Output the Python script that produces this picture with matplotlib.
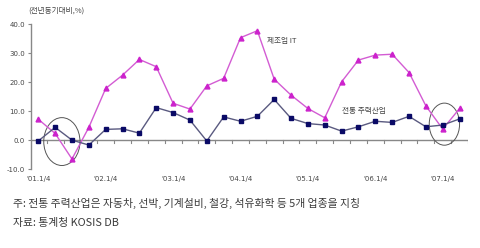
import numpy as np
from matplotlib import pyplot as plt
from matplotlib.patches import Ellipse

plt.rcParams['font.family'] = ['Noto Sans CJK KR', 'DejaVu Sans']

quarters = ["'01.1/4", "'02.1/4", "'03.1/4", "'04.1/4", "'05.1/4", "'06.1/4", "'07.1/4"]
it_mfg = [7.2, 2.3, -6.5, 4.4, 17.8, 22.4, 27.8, 25.3, 12.7, 10.7, 18.7, 21.3, 35.3,
          37.7, 21.0, 15.5, 10.9, 7.7, 20.1, 27.6, 29.3, 29.6, 23.3, 11.8, 3.8, 10.9]
trad_main = [-0.3, 4.4, 0.0, -1.7, 3.7, 3.9, 2.4, 11.2, 9.5, 6.9, -0.3, 8.0, 6.5,
             8.2, 14.0, 7.5, 5.7, 5.2, 3.1, 4.6, 6.5, 6.1, 8.2, 4.6, 5.2, 7.3]

x = np.arange(len(it_mfg))

fig = plt.figure(figsize=(4.8, 2.48), dpi=100)
ax = fig.add_axes([0.065, 0.318, 0.91, 0.585])

ax.plot(x, it_mfg, color='#d35cd3', lw=1.0, marker='^', ms=3.5,
        mfc='#cc22cc', mec='#cc22cc')
ax.plot(x, trad_main, color='#5a5a80', lw=1.0, marker='s', ms=3.2,
        mfc='#0a0a66', mec='#0a0a66')

ax.set_xlim(-0.42, 25.5)
ax.set_ylim(-10, 40)
ax.set_yticks([-10, 0, 10, 20, 30, 40])
ax.set_yticklabels(['%.1f' % v for v in [-10, 0, 10, 20, 30, 40]],
                   fontsize=5, color='#444444', family='DejaVu Sans')

for s in ['top', 'right', 'bottom']:
    ax.spines[s].set_visible(False)
ax.spines['left'].set_color('#888888')
ax.spines['left'].set_linewidth(1.0)
ax.tick_params(axis='y', length=2.5, color='#888888', pad=2)

# zero line with quarter tick marks
ax.axhline(0, color='#888888', lw=1.0, zorder=1)
ax.set_xticks([])
for b in np.arange(0.5, 25.6, 1.0):
    ax.plot([b, b], [0, -0.9], color='#888888', lw=0.8, zorder=1)
for i, lab in enumerate(quarters):
    ax.text(i * 4, -13.5, lab, ha='center', va='center', fontsize=5,
            color='#444444', family='DejaVu Sans')

ax.text(-0.6, 44.8, '(전년동기대비,%)', ha='left', va='center', fontsize=5.5,
        color='#444444', clip_on=False)
ax.text(13.6, 33.6, '제조업 IT', fontsize=5.5, color='#444444')
ax.text(18.0, 9.3, '전통 주력산업', fontsize=5.5, color='#444444')

ax.add_patch(Ellipse((1.4, -0.5), 2.15, 16.5, angle=0, fill=False,
                     ec='#555555', lw=0.7))
ax.add_patch(Ellipse((24.1, 5.5), 1.8, 14.5, angle=0, fill=False,
                     ec='#555555', lw=0.7))

fig.text(0.027, 0.178, '주: 전통 주력산업은 자동차, 선박, 기계설비, 철강, 석유화학 등 5개 업종을 지칭',
         fontsize=7.8, color='#3a3a3a', va='center')
fig.text(0.027, 0.1, '자료: 통계청 KOSIS DB', fontsize=7.8, color='#3a3a3a', va='center')

fig.savefig('out.png', dpi=100)
